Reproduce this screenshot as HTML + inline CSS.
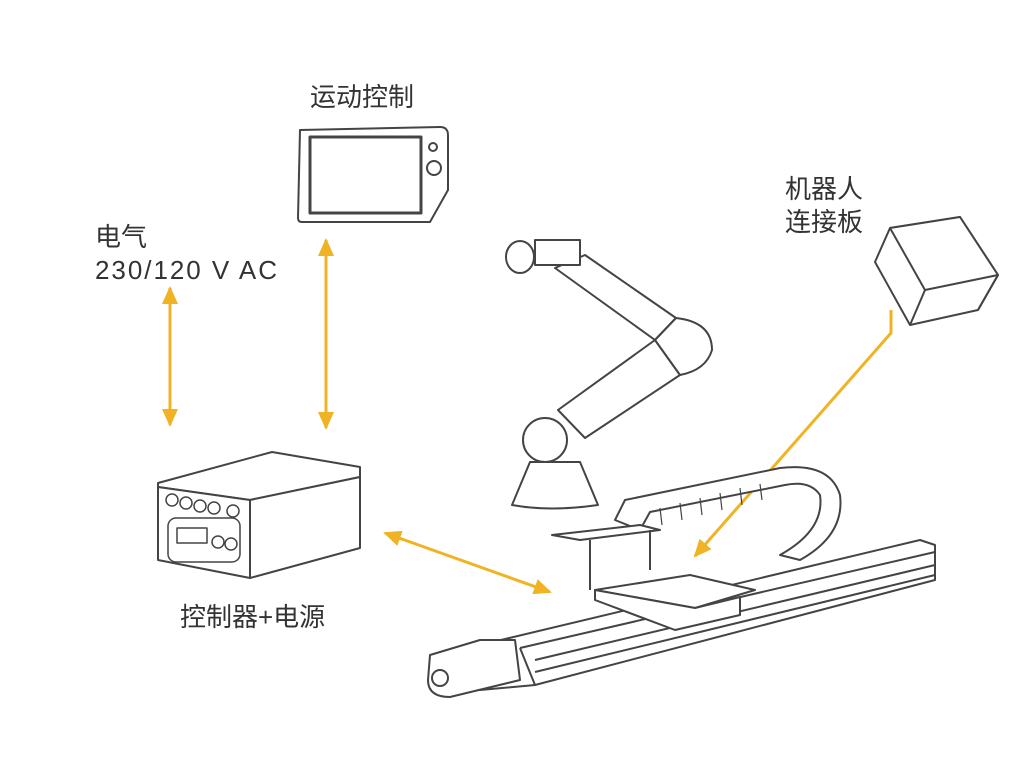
<!DOCTYPE html>
<html><head><meta charset="utf-8"><style>
body{margin:0;background:#fff}
svg{display:block}
text{font-family:"Liberation Sans","Noto Sans CJK SC",sans-serif;fill:#333;font-size:26px}
</style></head><body>
<svg width="1031" height="777" viewBox="0 0 1031 777">
<defs>
<marker id="ahb" markerWidth="18" markerHeight="16" refX="16" refY="8" orient="auto-start-reverse" markerUnits="userSpaceOnUse"><path d="M0,0 L18,8 L0,16 Z" fill="#f0b323"/></marker>
</defs>
<text x="310" y="106">运动控制</text>
<text x="95" y="246">电气</text>
<text x="95" y="279" textLength="182">230/120 V AC</text>
<text x="180" y="626">控制器+电源</text>
<text x="785" y="198">机器人</text>
<text x="785" y="231">连接板</text>

<g stroke="#f0b323" stroke-width="3" fill="none">
<line x1="326" y1="240" x2="326" y2="428" marker-start="url(#ahb)" marker-end="url(#ahb)"/>
<line x1="170" y1="288" x2="170" y2="425" marker-start="url(#ahb)" marker-end="url(#ahb)"/>
<line x1="385" y1="533" x2="550" y2="592" marker-start="url(#ahb)" marker-end="url(#ahb)"/>
<polyline points="891,310 891,333 695,556" marker-end="url(#ahb)"/>
</g>

<g stroke="#444" stroke-width="2" fill="#fff" stroke-linejoin="round">
<!-- tablet -->
<path d="M300,130 L440,127 Q448,127 448,135 L448,190 L430,222 L302,222 Q298,222 298,218 Z"/>
<rect x="310" y="137" width="111" height="76" stroke-width="3"/>
<circle cx="433" cy="147" r="4"/><circle cx="434" cy="168" r="7"/>

<!-- controller -->
<path d="M158,483 L272,452 L360,467 L360,477 L250,500 L158,487 Z"/>
<path d="M158,487 L250,500 L250,578 L158,560 Z"/>
<path d="M250,500 L360,477 L360,548 L250,578 Z"/>
<g stroke-width="1.5">
<circle cx="172" cy="500" r="6"/><circle cx="186" cy="503" r="6"/><circle cx="200" cy="506" r="6"/><circle cx="214" cy="508" r="6"/><circle cx="233" cy="511" r="6"/>
<rect x="168" y="518" width="72" height="44" rx="8"/>
<rect x="177" y="528" width="30" height="15"/>
<circle cx="218" cy="542" r="6"/><circle cx="231" cy="544" r="6"/>
</g>

<!-- robot arm -->
<path d="M585,255 L676,318 L655,340 L555,268 Z"/>
<path d="M655,340 L680,375 L585,438 L558,410 Z"/>
<path d="M676,318 Q712,322 712,350 Q706,370 680,375 L655,340 Z"/>
<path d="M535,240 L580,240 L580,265 L535,265 Z"/>
<ellipse cx="520" cy="257" rx="14" ry="16"/>
<circle cx="545" cy="440" r="22"/>
<path d="M530,462 L580,462 L598,505 Q550,512 512,505 Z"/>

<!-- robot plate -->
<path d="M890,228 L960,217 L998,275 L978,310 L910,325 L875,262 Z"/>
<path d="M890,228 L960,217 L998,275 L925,290 Z"/>
<line x1="925" y1="290" x2="910" y2="325"/>
<line x1="998" y1="275" x2="978" y2="310"/>

<!-- cable chain -->
<path d="M615,520 L625,500 L780,468 Q830,462 840,495 Q845,535 800,560 L780,555 Q825,530 820,495 Q810,480 785,485 L650,512 L640,530 Z"/>
<g stroke-width="1.2">
<line x1="660" y1="508" x2="662" y2="525"/><line x1="680" y1="503" x2="682" y2="520"/><line x1="700" y1="498" x2="702" y2="515"/><line x1="720" y1="493" x2="722" y2="510"/><line x1="740" y1="488" x2="742" y2="505"/><line x1="760" y1="484" x2="762" y2="500"/>
</g>
<!-- bracket -->
<path d="M552,535 L640,525 L660,530 L580,540 Z"/>
<line x1="590" y1="540" x2="590" y2="590"/><line x1="650" y1="530" x2="650" y2="570"/>

<!-- rail -->
<path d="M480,645 L920,540 L935,545 L935,580 L535,685 L480,690 Z"/>
<line x1="520" y1="648" x2="935" y2="552"/>
<line x1="535" y1="660" x2="935" y2="565"/>
<line x1="535" y1="672" x2="935" y2="575"/>
<line x1="520" y1="648" x2="535" y2="685"/>
<!-- carriage -->
<path d="M595,590 L690,575 L755,590 L695,608 Z"/>
<path d="M595,590 L695,608 L740,597 L740,615 L675,630 L595,600 Z"/>
<!-- motor -->
<path d="M430,655 L480,640 L515,640 L520,680 L450,697 Q428,697 428,680 Z"/>
<circle cx="440" cy="678" r="8"/>
</g>
</svg>
</body></html>
